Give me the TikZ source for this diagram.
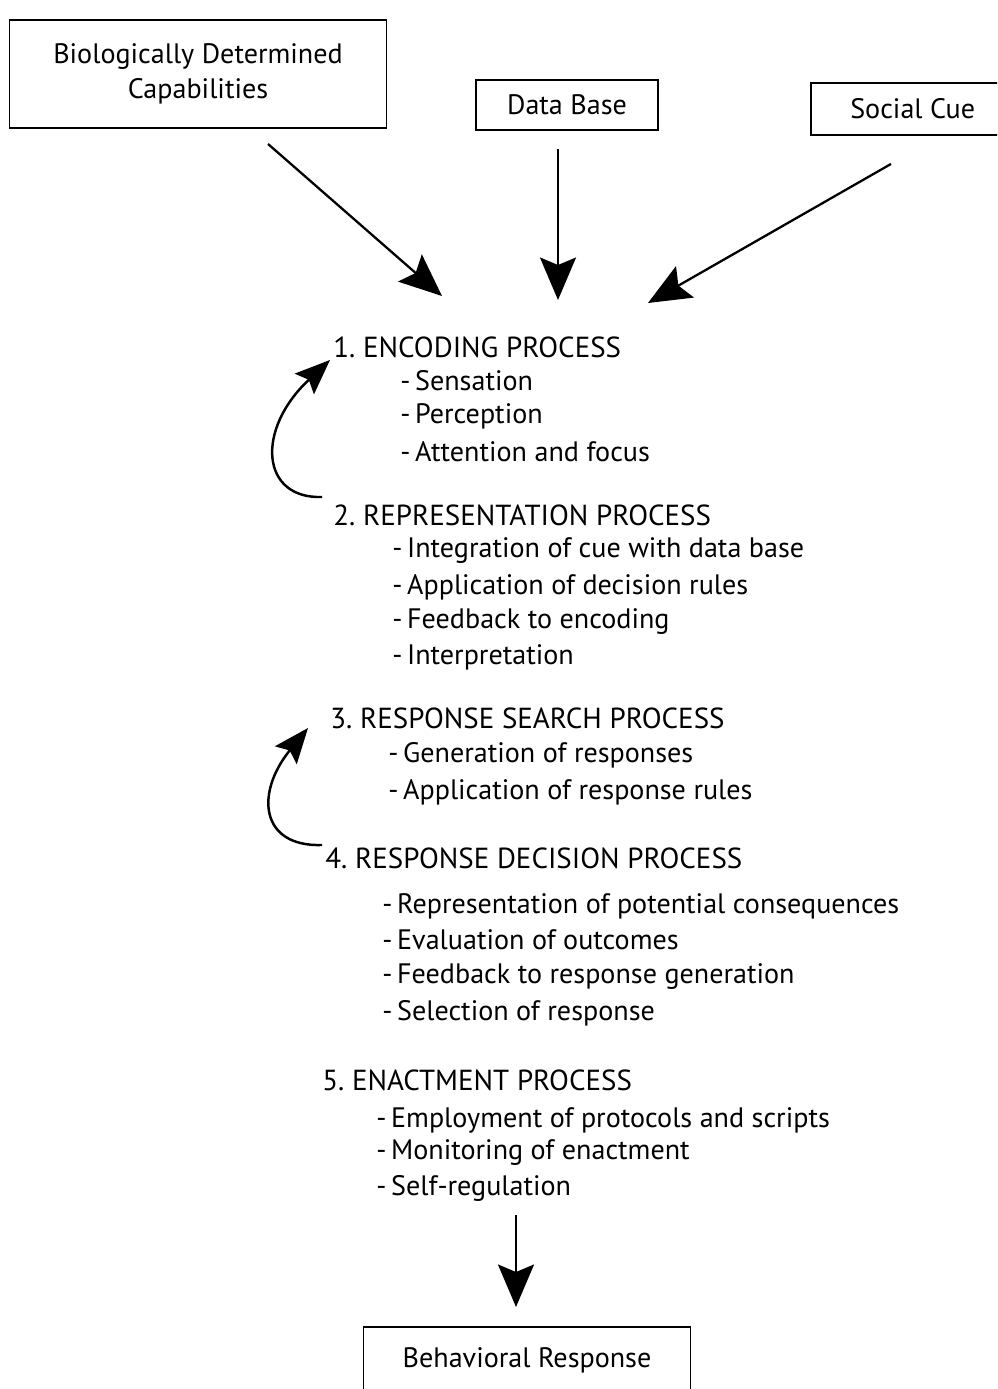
\documentclass[tikz,border=0pt]{standalone}
\usepackage{fontspec}
\setmainfont{PT Sans}
\usepackage{tikz}
\usetikzlibrary{positioning,calc,arrows.meta}

\tikzset{
  inbox/.style={draw, line width=1.1pt, inner sep=0pt, align=center, font=\fontsize{16}{20}\selectfont},
  head/.style={anchor=west, inner sep=0pt, font=\fontsize{16.5}{20}\selectfont},
  item/.style={anchor=west, inner sep=0pt, font=\fontsize{16}{20}\selectfont},
  bigarrow/.style={line width=1.3pt, -{Stealth[length=0.85cm, width=0.72cm, inset=0.15cm]}},
  looparrow/.style={line width=1.4pt, -{Stealth[length=0.7cm, width=0.56cm, inset=0.12cm]}}
}

\begin{document}
\begin{tikzpicture}[x=0.02cm, y=-0.02cm]
  \useasboundingbox (0,0) rectangle (997,1389);
  \clip (0,0) rectangle (997,1389);

  % Inputs
  \node[inbox, minimum width=377*0.02cm, minimum height=108*0.02cm] (bio) at (198,74) {Biologically Determined\\Capabilities};
  \node[inbox, minimum width=182*0.02cm, minimum height=50*0.02cm] (db) at (567,105) {Data Base};
  \node[inbox, minimum width=200*0.02cm, minimum height=52*0.02cm, anchor=west] (cue) at (810,109) {\hspace{2pt}Social Cue};

  \coordinate (bioend) at (442,296);
  \coordinate (dbend) at (558,300);
  \coordinate (cueend) at (648,303);
  \draw[bigarrow] ($(bio.south)+(70,15)$) -- (bioend);
  \draw[bigarrow] ($(db.south)+(-9,18)$) -- (dbend);
  \draw[bigarrow] ($(cue.south)+(-20,28)$) -- (cueend);

  % Stages
  \node[head] (enc) at (333,347) {1.\ ENCODING PROCESS};
  \node[item] (enc1) at (400,381) {-\,Sensation};
  \node[item] (enc2) at (400,416) {-\,Perception};
  \node[item] (enc3) at (400,452) {-\,Attention and focus};

  \node[head] (rep) at (333,515) {2.\ REPRESENTATION PROCESS};
  \node[item] (rep1) at (392,551) {-\,Integration of cue with data base};
  \node[item] (rep2) at (392,587) {-\,Application of decision rules};
  \node[item] (rep3) at (392,622) {-\,Feedback to encoding};
  \node[item] (rep4) at (392,657) {-\,Interpretation};

  \node[head] (srch) at (330,718) {3.\ RESPONSE SEARCH PROCESS};
  \node[item] (srch1) at (388,755) {-\,Generation of responses};
  \node[item] (srch2) at (388,792) {-\,Application of response rules};

  \node[head] (dec) at (325,858) {4.\ RESPONSE DECISION PROCESS};
  \node[item] (dec1) at (382,906) {-\,Representation of potential consequences};
  \node[item] (dec2) at (382,940) {-\,Evaluation of outcomes};
  \node[item] (dec3) at (382,977) {-\,Feedback to response generation};
  \node[item] (dec4) at (382,1013) {-\,Selection of response};

  \node[head] (act) at (322,1080) {5.\ ENACTMENT PROCESS};
  \node[item] (act1) at (376,1120) {-\,Employment of protocols and scripts};
  \node[item] (act2) at (376,1153) {-\,Monitoring of enactment};
  \node[item] (act3) at (376,1188) {-\,Self-regulation};

  % Feedback loops
  \draw[looparrow] ($(rep.west)+(-11,-18)$) .. controls +(-61,2) and +(-75,70) .. ($(enc.west)+(-3,13)$);
  \draw[looparrow] ($(dec.west)+(-3,-13)$) .. controls +(-62,2) and +(-53,65) .. ($(srch.west)+(-22,10)$);

  % Output
  \node[inbox, minimum width=327*0.02cm, minimum height=66*0.02cm, anchor=north] (out) at (527,1326) {Behavioral Response};
  \coordinate (actend) at (516,1215);
  \draw[bigarrow] (actend) -- (actend |- {$(out.north)+(0,-19)$});
\end{tikzpicture}
\end{document}
